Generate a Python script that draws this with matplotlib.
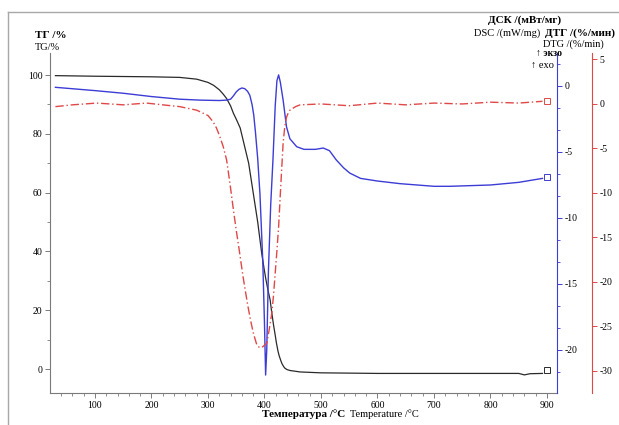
import matplotlib
matplotlib.use("Agg")
import matplotlib.pyplot as plt
from matplotlib.ticker import MultipleLocator

plt.rcParams['font.family'] = ['Liberation Serif', 'DejaVu Serif']
plt.rcParams['axes.unicode_minus'] = False

# ---- data ----
tg_T = [30, 100, 150, 200, 250, 280, 300, 310, 320, 327, 333, 340, 345, 350, 357, 362, 367, 372, 376,
        380, 384, 388, 392, 395, 399, 402, 406, 410, 413, 416, 419, 421, 424, 426, 429, 431, 434, 436,
        440, 445, 463, 500, 551, 600, 700, 800, 850, 860, 870, 892]
tg_v = [99.8, 99.6, 99.5, 99.4, 99.2, 98.6, 97.5, 96.5, 95, 93.5, 92, 89.5, 87, 85, 82, 78, 74, 70, 65,
        60, 55, 50, 44, 39.5, 34.5, 31, 27, 23.5, 19, 15, 11.5, 9, 6, 4.5, 2.8, 1.8, 0.8, 0.3,
        -0.2, -0.5, -1, -1.3, -1.4, -1.5, -1.5, -1.5, -1.5, -2.0, -1.6, -1.5]

dsc_T = [30, 100, 150, 200, 250, 286, 320, 333, 340, 345, 350, 355, 360, 365, 370, 374, 378, 381, 384,
         388, 392, 397, 400, 402, 404, 407, 411, 415, 419, 422, 425, 428, 433, 439, 445, 457, 470, 490,
         504, 515, 527, 540, 551, 570, 600, 640, 700, 728, 800, 850, 892]
dsc_v = [-0.1, -0.35, -0.55, -0.8, -1.0, -1.07, -1.1, -1.07, -1.0, -0.75, -0.45, -0.25, -0.15, -0.2,
         -0.4, -0.7, -1.4, -2.2, -3.5, -5.5, -8.2, -13.3, -18, -21.9, -20, -14, -9, -5.6, -1.5, 0.4,
         0.84, 0.3, -1.07, -3.1, -4.0, -4.6, -4.8, -4.8, -4.7, -4.9, -5.6, -6.2, -6.6, -7.0, -7.2, -7.4,
         -7.6, -7.6, -7.5, -7.3, -7.0]

dtg_T = [30, 60, 103, 150, 191, 220, 250, 280, 300, 309, 315, 320, 327, 333, 339, 345, 350, 355, 362,
         370, 375, 380, 386, 391, 397, 404, 408, 413, 416, 419, 422, 425, 429, 433, 436, 439, 442, 445,
         455, 463, 500, 550, 600, 650, 700, 750, 800, 850, 892]
dtg_v = [-0.3, -0.1, 0.1, -0.1, 0.1, -0.1, -0.3, -0.7, -1.3, -2.0, -2.7, -3.5, -4.8, -6.3, -9, -11.9,
         -14.2, -16.3, -19.4, -22.5, -24.2, -25.7, -27, -27.4, -27.3, -26.9, -25.5, -23.5, -21.5, -19,
         -16.5, -13.8, -9, -4.4, -2.5, -1.5, -1.0, -0.7, -0.3, -0.1, 0, -0.2, 0.1, -0.1, 0.1, 0, 0.2,
         0.1, 0.3]

end_T = 900
end_tg, end_dsc, end_dtg = -0.4, -6.9, 0.35

x_ticks = [100, 200, 300, 400, 500, 600, 700, 800, 900]

# ---- figure ----
W, H = 619, 425
fig = plt.figure(figsize=(W / 100, H / 100), dpi=100)
ax = fig.add_axes([50 / W, 32 / H, 507 / W, 340 / H])
ax2 = ax.twinx()
ax3 = ax.twinx()

gray = '#7a7a7a'
blue = '#3c3cd6'
red = '#e04848'
fs = 7

ax.plot(tg_T, tg_v, color='#2a2a2a', lw=0.9)
ax.plot([end_T], [end_tg], marker='s', ms=5, mfc='white', mec='#2a2a2a', mew=0.7, ls='none')
ax2.plot(dsc_T, dsc_v, color=blue, lw=1.0)
ax2.plot([end_T], [end_dsc], marker='s', ms=5, mfc='white', mec=blue, mew=0.7, ls='none')
ax3.plot(dtg_T, dtg_v, color=red, lw=1.0, dashes=(6, 2, 1, 2))
ax3.plot([end_T], [end_dtg], marker='s', ms=5, mfc='white', mec=red, mew=0.7, ls='none')

ax.set_xlim(20.4, 917.7)
ax.set_ylim(-8.16, 107.5)
ax2.set_ylim(-23.26, 2.5)
ax3.set_ylim(-32.5, 5.73)

for a in (ax, ax2, ax3):
    a.patch.set_visible(False)
    for s in a.spines.values():
        s.set_visible(False)

ax.spines['left'].set_visible(True)
ax.spines['bottom'].set_visible(True)
ax.spines['left'].set_color(gray)
ax.spines['bottom'].set_color(gray)
ax.set_xticks(x_ticks)
ax.xaxis.set_minor_locator(MultipleLocator(20))
ax.set_yticks([0, 20, 40, 60, 80, 100])
ax.yaxis.set_minor_locator(MultipleLocator(10))
ax.tick_params(axis='both', which='major', length=3.5, width=0.7, color=gray, labelsize=fs, pad=2)
ax.tick_params(axis='both', which='minor', length=2, width=0.6, color=gray)

ax2.spines['right'].set_visible(True)
ax2.spines['right'].set_color(blue)
ax2.set_yticks([0, -5, -10, -15, -20])
ax2.yaxis.set_minor_locator(MultipleLocator(5 / 3))
ax2.tick_params(axis='y', which='major', length=3.5, width=0.7, color=blue, labelsize=fs, pad=2)
ax2.tick_params(axis='y', which='minor', length=2, width=0.6, color=blue)

ax3.spines['right'].set_visible(True)
ax3.spines['right'].set_position(('outward', 35 * 0.72))
ax3.spines['right'].set_color(red)
ax3.set_yticks([5, 0, -5, -10, -15, -20, -25, -30])
ax3.tick_params(axis='y', which='major', length=3.5, width=0.7, color=red, labelsize=fs, pad=2)


def ftxt(x, y, s, **kw):
    fig.text(x / W, 1 - y / H, s, va='center', **kw)


ftxt(35, 35, 'ТГ /%', fontsize=8, fontweight='bold')
ftxt(35, 47, 'TG/%', fontsize=7.5)
ftxt(488, 20, 'ДСК /(мВт/мг)', fontsize=8, fontweight='bold')
ftxt(474, 33, 'DSC /(mW/mg)', fontsize=7.5)
ftxt(545, 33, 'ДТГ /(%/мин)', fontsize=8, fontweight='bold')
ftxt(543, 44, 'DTG /(%/min)', fontsize=7.5)
ftxt(562, 53, '↑ экзо', fontsize=7, fontweight='bold', ha='right')
ftxt(554, 65, '↑ exo', fontsize=7.5, ha='right')
ftxt(262, 414, 'Температура /°C', fontsize=8, fontweight='bold')
ftxt(350, 414, 'Temperature /°C', fontsize=7.5)

fig.add_artist(plt.Line2D([8 / W, 1], [1 - 12 / H, 1 - 12 / H], transform=fig.transFigure,
                          color='#a8a8a8', lw=1))
fig.add_artist(plt.Line2D([8 / W, 8 / W], [0, 1 - 12 / H], transform=fig.transFigure,
                          color='#a8a8a8', lw=1))

fig.savefig('out.png', dpi=100)
